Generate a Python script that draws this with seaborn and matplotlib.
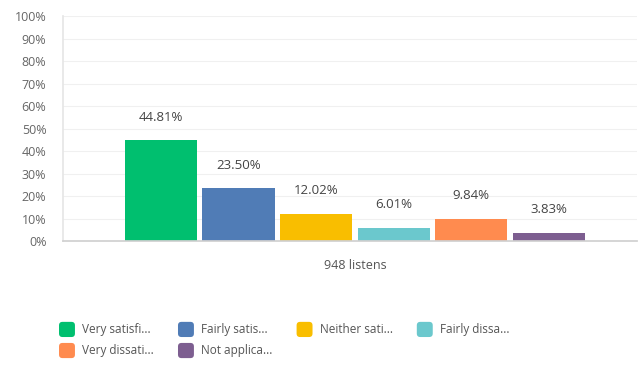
import matplotlib
matplotlib.use("Agg")
import matplotlib.pyplot as plt
import seaborn as sns
import pandas as pd
from matplotlib.ticker import FuncFormatter, MultipleLocator
from matplotlib.patches import FancyBboxPatch
from matplotlib.legend_handler import HandlerPatch

# Survey answers (share of listens, %)
categories = ["Very satisfied", "Fairly satisfied", "Neither satisfied nor dissatisfied",
              "Fairly dissatisfied", "Very dissatisfied", "Not applicable"]
legend_labels = ["Very satisfi...", "Fairly satis...", "Neither sati...",
                 "Fairly dissa...", "Very dissati...", "Not applica..."]
values = [44.81, 23.50, 12.02, 6.01, 9.84, 3.83]
group_label = "948 listens"
colors = ["#00bf6f", "#507cb6", "#f9be00", "#6bc8cd", "#ff8b4f", "#7d5e90"]

df = pd.DataFrame({"group": [group_label] * len(values),
                   "answer": categories,
                   "share": values})

sns.set_theme(style="white")
plt.rcParams["font.family"] = ["Open Sans", "DejaVu Sans"]

fig = plt.figure(figsize=(6.38, 3.67), dpi=100)
ax = fig.add_axes([0.099, 0.343, 0.899, 0.613])

sns.barplot(data=df, x="group", y="share", hue="answer", hue_order=categories,
            palette=colors, width=0.8, gap=0.07, saturation=1, ax=ax,
            legend=False, edgecolor="none")

ax.set_ylim(0, 100)
ax.set_xlim(-0.5015, 0.4845)
ax.yaxis.set_major_locator(MultipleLocator(10))
ax.yaxis.set_major_formatter(FuncFormatter(lambda v, _: f"{v:.0f}%"))
ax.grid(axis="y", color="#f0f0f0", linewidth=0.8)
ax.set_axisbelow(True)
ax.set_xlabel("")
ax.set_ylabel("")
ax.tick_params(axis="y", labelsize=9, labelcolor="#666666", length=0, pad=12)
ax.tick_params(axis="x", labelsize=9, labelcolor="#555555", length=0, pad=13)

for side in ["top", "right"]:
    ax.spines[side].set_visible(False)
ax.spines["left"].set_color("#e6e6e6")
ax.spines["bottom"].set_color("#d0d0d0")

for container in ax.containers:
    ax.bar_label(container, labels=[f"{v:.2f}%" for v in container.datavalues],
                 padding=12, fontsize=9.5, color="#444444")


class RoundedSquare(HandlerPatch):
    def create_artists(self, legend, orig_handle, xdescent, ydescent,
                       width, height, fontsize, trans):
        patch = FancyBboxPatch((-xdescent, -ydescent), width, height,
                               boxstyle="round,pad=0,rounding_size=2.5",
                               facecolor=orig_handle.get_facecolor(),
                               edgecolor="none", transform=trans)
        return [patch]


handles = [plt.Rectangle((0, 0), 1, 1, facecolor=c) for c in colors]
# row-major placement over 4 columns
order = [0, 4, 1, 5, 2, 3]
fig.legend([handles[i] for i in order], [legend_labels[i] for i in order],
           ncol=4, loc="upper left", bbox_to_anchor=(0.0925, 0.123),
           frameon=False, fontsize=8.5, borderpad=0, borderaxespad=0,
           handlelength=1.35, handleheight=1.6, handletextpad=0.6,
           columnspacing=2.05, labelspacing=0.5, labelcolor="#555555",
           handler_map={plt.Rectangle: RoundedSquare()})

fig.savefig("out.png", dpi=100)
